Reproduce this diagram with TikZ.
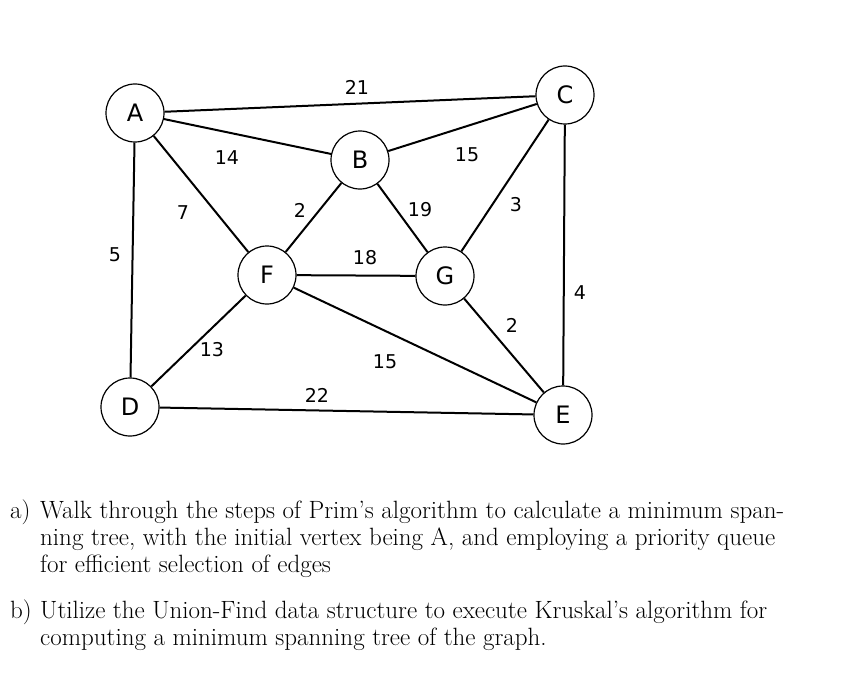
\documentclass[tikz,border=0pt]{standalone}
\usepackage{fontspec}
\newfontfamily\sans{DejaVu Sans}
\begin{document}
\begin{tikzpicture}[x=1pt,y=-1pt,
 v/.style={circle,draw,line width=1.2pt,minimum size=58pt,inner sep=0pt,font=\sans\fontsize{24}{24}\selectfont,fill=white},
 e/.style={line width=2pt},
 w/.style={font=\sans\fontsize{19}{19}\selectfont,inner sep=1pt},
 t/.style={anchor=base west,inner sep=0pt,font=\fontsize{25}{27}\selectfont}]
\useasboundingbox (0,0) rectangle (867,698);
\node[v] (A) at (135,113) {A};
\node[v] (C) at (565,95) {C};
\node[v] (B) at (360,160) {B};
\node[v] (F) at (267,275) {F};
\node[v] (G) at (445,276) {G};
\node[v] (D) at (130,407) {D};
\node[v] (E) at (563,415) {E};
\draw[e] (A)--(C); \draw[e] (A)--(B); \draw[e] (A)--(F); \draw[e] (A)--(D);
\draw[e] (B)--(C); \draw[e] (B)--(F); \draw[e] (B)--(G);
\draw[e] (C)--(G); \draw[e] (C)--(E);
\draw[e] (F)--(G); \draw[e] (F)--(D); \draw[e] (F)--(E);
\draw[e] (G)--(E); \draw[e] (D)--(E);
\node[w] (l1) at (357,87) {21};
\node[w] (l2) at (227,158) {14};
\node[w] (l3) at (467,155) {15};
\node[w] (l4) at (183,213) {7};
\node[w] (l5) at (300,210) {2};
\node[w] (l6) at (420,210) {19};
\node[w] (l7) at (516,205) {3};
\node[w] (l8) at (115,255) {5};
\node[w] (l9) at (365,258) {18};
\node[w] (l10) at (580,293) {4};
\node[w] (l11) at (512,325) {2};
\node[w] (l12) at (212,350) {13};
\node[w] (l13) at (385,362) {15};
\node[w] (l14) at (317,395) {22};
\node[t] (qa) at (10,518) {a)};
\node[t] (qa1) at (40,518) {Walk through the steps of Prim's algorithm to calculate a minimum span-};
\node[t] (qa2) at (40,545) {ning tree, with the initial vertex being A, and employing a priority queue};
\node[t] (qa3) at (40,572) {for efficient selection of edges};
\node[t] (qb) at (10,618) {b)};
\node[t] (qb1) at (40,618) {Utilize the Union-Find data structure to execute Kruskal's algorithm for};
\node[t] (qb2) at (40,645) {computing a minimum spanning tree of the graph.};
\end{tikzpicture}
\end{document}
